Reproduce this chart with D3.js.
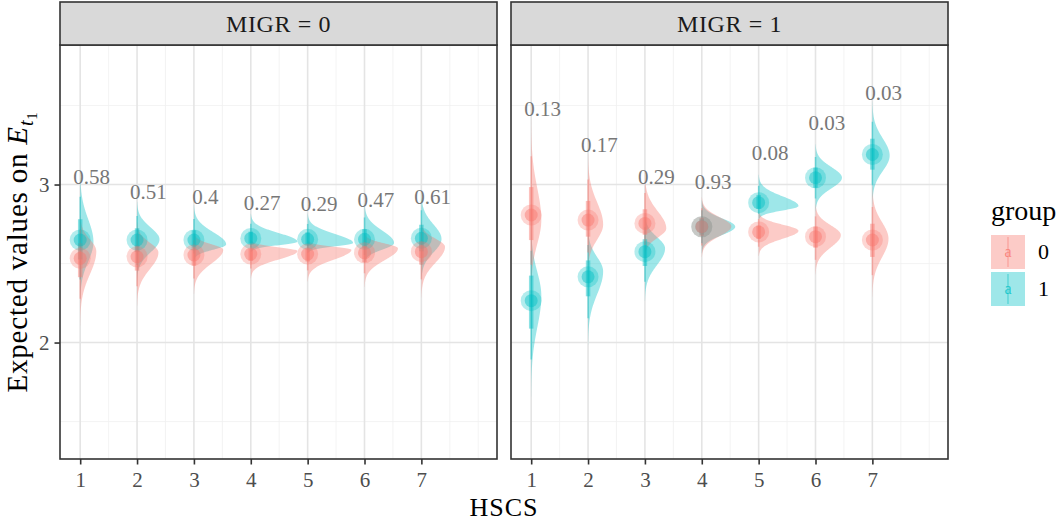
<!DOCTYPE html>
<html>
<head>
<meta charset="utf-8">
<script src="https://cdn.jsdelivr.net/npm/d3@7"></script>
<style>
  body { margin: 0; background: #fff; }
  svg { display: block; }
  text { font-family: "Liberation Serif", "Times New Roman", serif; }
</style>
</head>
<body>
<svg id="chart" width="1062" height="522"></svg>
<script>
// ---- data -------------------------------------------------------------
const hscs = [1, 2, 3, 4, 5, 6, 7];
const panelTitles = ["MIGR = 0", "MIGR = 1"];
const groups = ["0", "1"];
const xTicks = [1, 2, 3, 4, 5, 6, 7];
const yTicks = [2, 3];

// posterior medians of the expected value, by HSCS level
const medianM0G0 = [2.533, 2.543, 2.554, 2.560, 2.560, 2.568, 2.575];
const medianM0G1 = [2.649, 2.649, 2.649, 2.659, 2.653, 2.653, 2.660];
const medianM1G0 = [2.807, 2.775, 2.754, 2.733, 2.700, 2.670, 2.649];
const medianM1G1 = [2.265, 2.416, 2.575, 2.733, 2.885, 3.043, 3.190];

// lower / upper spread of each (skewed) posterior
const sdLoM0G0 = [0.145, 0.104, 0.086, 0.053, 0.061, 0.075, 0.099];
const sdHiM0G0 = [0.075, 0.062, 0.035, 0.023, 0.020, 0.031, 0.051];
const sdLoM0G1 = [0.123, 0.082, 0.033, 0.022, 0.021, 0.042, 0.084];
const sdHiM0G1 = [0.144, 0.076, 0.077, 0.054, 0.057, 0.078, 0.092];
const sdLoM1G0 = [0.150, 0.095, 0.058, 0.061, 0.050, 0.078, 0.116];
const sdHiM1G0 = [0.200, 0.140, 0.108, 0.059, 0.039, 0.062, 0.104];
const sdLoM1G1 = [0.200, 0.145, 0.104, 0.053, 0.028, 0.067, 0.097];
const sdHiM1G1 = [0.150, 0.090, 0.072, 0.053, 0.061, 0.067, 0.108];

// p-values printed above each pair, and their heights
const pLabelsM0 = ["0.58", "0.51", "0.4", "0.27", "0.29", "0.47", "0.61"];
const pLabelYM0 = [3.05, 2.955, 2.92, 2.885, 2.877, 2.90, 2.92];
const pLabelsM1 = ["0.13", "0.17", "0.29", "0.93", "0.08", "0.03", "0.03"];
const pLabelYM1 = [3.48, 3.25, 3.05, 3.018, 3.197, 3.387, 3.577];

// ---- helpers ----------------------------------------------------------
// inverse standard normal CDF (Acklam)
function qnorm(p) {
  const a = [-39.69683028665376, 220.9460984245205, -275.9285104469687, 138.3577518672690, -30.66479806614716, 2.506628277459239];
  const b = [-54.47609879822406, 161.5858368580409, -155.6989798598866, 66.80131188771972, -13.28068155288572];
  const c = [-0.007784894002430293, -0.3223964580411365, -2.400758277161838, -2.549732539343734, 4.374664141464968, 2.938163982698783];
  const d = [0.007784695709041462, 0.3224671290700398, 2.445134137142996, 3.754408661907416];
  const pl = 0.02425;
  let q, r;
  if (p < pl) {
    q = Math.sqrt(-2 * Math.log(p));
    return (((((c[0]*q+c[1])*q+c[2])*q+c[3])*q+c[4])*q+c[5]) / ((((d[0]*q+d[1])*q+d[2])*q+d[3])*q+1);
  } else if (p <= 1 - pl) {
    q = p - 0.5; r = q * q;
    return (((((a[0]*r+a[1])*r+a[2])*r+a[3])*r+a[4])*r+a[5])*q / (((((b[0]*r+b[1])*r+b[2])*r+b[3])*r+b[4])*r+1);
  } else {
    q = Math.sqrt(-2 * Math.log(1 - p));
    return -(((((c[0]*q+c[1])*q+c[2])*q+c[3])*q+c[4])*q+c[5]) / ((((d[0]*q+d[1])*q+d[2])*q+d[3])*q+1);
  }
}

// split-normal distribution built from its median and two spreads
function splitNormal(median, sLo, sHi) {
  const s = sLo + sHi;
  const pLo = sLo / s;
  const qRaw = p => p < pLo ? sLo * qnorm(p * s / (2 * sLo))
                            : sHi * qnorm(1 - (1 - p) * s / (2 * sHi));
  const mode = median - qRaw(0.5);
  const peak = Math.sqrt(2 / Math.PI) / s;
  return {
    median, mode, peak,
    q: p => mode + qRaw(p),
    pdf: v => peak * Math.exp(-((v - mode) ** 2) / (2 * (v < mode ? sLo : sHi) ** 2))
  };
}

const panelData = [
  { title: panelTitles[0], labels: pLabelsM0, labelY: pLabelYM0,
    series: [
      { group: groups[0], median: medianM0G0, lo: sdLoM0G0, hi: sdHiM0G0 },
      { group: groups[1], median: medianM0G1, lo: sdLoM0G1, hi: sdHiM0G1 } ] },
  { title: panelTitles[1], labels: pLabelsM1, labelY: pLabelYM1,
    series: [
      { group: groups[0], median: medianM1G0, lo: sdLoM1G0, hi: sdHiM1G0 },
      { group: groups[1], median: medianM1G1, lo: sdLoM1G1, hi: sdHiM1G1 } ] }
];
panelData.forEach(p => p.series.forEach(s => {
  s.dists = hscs.map((h, i) => splitNormal(s.median[i], s.lo[i], s.hi[i]));
}));
const maxPeak = d3.max(panelData, p => d3.max(p.series, s => d3.max(s.dists, d => d.peak)));

// ---- layout -----------------------------------------------------------
const svg = d3.select("#chart");
const color = d3.scaleOrdinal().domain(groups).range(["#F8766D", "#00BFC4"]);
const slabAlpha = 0.38;
const slabScale = 0.82;           // widest slab, in x units
const panelX = [[60, 497], [511, 948]];
const panelTop = 45, panelBottom = 459, stripTop = 2;

const y = d3.scaleLinear().domain([1.263, 3.883]).range([panelBottom, panelTop]);
const yMinor = [1.5, 2.5, 3.5];
const xMinor = [1.5, 2.5, 3.5, 4.5, 5.5, 6.5, 7.5, 8];

panelData.forEach((pd, pi) => {
  const [x0, x1] = panelX[pi];
  const x = d3.scaleLinear().domain([0.645, 8.33]).range([x0, x1]);
  const g = svg.append("g");
  const clipId = "clip" + pi;
  svg.append("clipPath").attr("id", clipId)
    .append("rect").attr("x", x0).attr("y", panelTop).attr("width", x1 - x0).attr("height", panelBottom - panelTop);

  // grid
  const grid = g.append("g");
  grid.selectAll(".gym").data(yMinor).join("line")
    .attr("x1", x0).attr("x2", x1).attr("y1", d => y(d)).attr("y2", d => y(d))
    .attr("stroke", "#f0f0f0").attr("stroke-width", 0.8);
  grid.selectAll(".gxm").data(xMinor).join("line")
    .attr("y1", panelTop).attr("y2", panelBottom).attr("x1", d => x(d)).attr("x2", d => x(d))
    .attr("stroke", "#f0f0f0").attr("stroke-width", 0.8);
  grid.selectAll(".gy").data(yTicks).join("line")
    .attr("x1", x0).attr("x2", x1).attr("y1", d => y(d)).attr("y2", d => y(d))
    .attr("stroke", "#e4e4e4").attr("stroke-width", 1.6);
  grid.selectAll(".gx").data(xTicks).join("line")
    .attr("y1", panelTop).attr("y2", panelBottom).attr("x1", d => x(d)).attr("x2", d => x(d))
    .attr("stroke", "#e4e4e4").attr("stroke-width", 1.6);

  const marks = g.append("g").attr("clip-path", `url(#${clipId})`);

  // density slabs: group 1 underneath, group 0 on top
  const area = d3.area().curve(d3.curveLinear);
  [1, 0].forEach(si => {
    const s = pd.series[si];
    s.dists.forEach((dist, i) => {
      const lo = dist.q(0.0008), hi = dist.q(0.9992);
      const vals = d3.range(0, 161).map(k => lo + (hi - lo) * k / 160);
      area.x0(() => x(hscs[i]))
          .x1(v => x(hscs[i] + slabScale * dist.pdf(v) / maxPeak))
          .y(v => y(v));
      marks.append("path").attr("d", area(vals))
        .attr("fill", color(s.group)).attr("fill-opacity", slabAlpha);
    });
  });

  // intervals (66% thick, 95% thin) and medians
  [1, 0].forEach(si => {
    const s = pd.series[si];
    s.dists.forEach((dist, i) => {
      const cx = x(hscs[i]);
      marks.append("line").attr("x1", cx).attr("x2", cx)
        .attr("y1", y(dist.q(0.025))).attr("y2", y(dist.q(0.975)))
        .attr("stroke", color(s.group)).attr("stroke-opacity", 0.45).attr("stroke-width", 1.5);
      marks.append("line").attr("x1", cx).attr("x2", cx)
        .attr("y1", y(dist.q(0.17))).attr("y2", y(dist.q(0.83)))
        .attr("stroke", color(s.group)).attr("stroke-opacity", 0.45).attr("stroke-width", 4.5);
    });
  });
  [1, 0].forEach(si => {
    const s = pd.series[si];
    s.dists.forEach((dist, i) => {
      const cx = x(hscs[i]), cy = y(dist.median);
      marks.append("circle").attr("cx", cx).attr("cy", cy).attr("r", 10.5)
        .attr("fill", color(s.group)).attr("fill-opacity", 0.3);
      marks.append("circle").attr("cx", cx).attr("cy", cy).attr("r", 6.5)
        .attr("fill", color(s.group)).attr("fill-opacity", 0.45);
    });
  });

  // p-value labels
  marks.selectAll(".plab").data(pd.labels).join("text")
    .attr("x", (d, i) => x(hscs[i] + 0.2))
    .attr("y", (d, i) => y(pd.labelY[i]) + 7)
    .attr("text-anchor", "middle")
    .attr("font-size", 21).attr("fill", "#777")
    .text(d => d);

  // panel border
  g.append("rect").attr("x", x0).attr("y", panelTop).attr("width", x1 - x0).attr("height", panelBottom - panelTop)
    .attr("fill", "none").attr("stroke", "#333").attr("stroke-width", 1.6);

  // strip
  g.append("rect").attr("x", x0).attr("y", stripTop).attr("width", x1 - x0).attr("height", panelTop - stripTop)
    .attr("fill", "#d9d9d9").attr("stroke", "#333").attr("stroke-width", 1.6);
  g.append("text").attr("x", (x0 + x1) / 2).attr("y", 32).attr("text-anchor", "middle")
    .attr("font-size", 24).attr("letter-spacing", 0.6).attr("fill", "#1a1a1a").text(pd.title);

  // x axis
  const xAxis = d3.axisBottom(x).tickValues(xTicks).tickSize(5.5).tickPadding(4).tickFormat(d3.format("d"));
  const xa = svg.append("g").attr("transform", `translate(0,${panelBottom})`).call(xAxis);
  xa.select(".domain").remove();
  xa.selectAll(".tick line").attr("stroke", "#333").attr("stroke-width", 1.6);
  xa.selectAll(".tick text").attr("font-size", 21).attr("fill", "#4d4d4d")
    .attr("font-family", "Liberation Serif, serif").attr("dy", null).attr("y", 28);

  // y axis (first panel only)
  if (pi === 0) {
    const yAxis = d3.axisLeft(y).tickValues(yTicks).tickSize(5.5).tickPadding(5).tickFormat(d3.format("d"));
    const ya = svg.append("g").attr("transform", `translate(${x0},0)`).call(yAxis);
    ya.select(".domain").remove();
    ya.selectAll(".tick line").attr("stroke", "#333").attr("stroke-width", 1.6);
    ya.selectAll(".tick text").attr("font-size", 21).attr("fill", "#4d4d4d")
      .attr("font-family", "Liberation Serif, serif").attr("dy", "0.34em");
  }
});

// axis titles
svg.append("text").attr("x", (panelX[0][0] + panelX[1][1]) / 2).attr("y", 516)
  .attr("text-anchor", "middle").attr("font-size", 26).attr("letter-spacing", 1).attr("fill", "#000").text("HSCS");

const yTitle = svg.append("text")
  .attr("transform", `translate(27,${(panelTop + panelBottom) / 2}) rotate(-90)`)
  .attr("text-anchor", "middle").attr("font-size", 29).attr("fill", "#000")
  .attr("letter-spacing", 0.8);
yTitle.append("tspan").text("Expected values on ");
yTitle.append("tspan").attr("font-style", "italic").text("E");
yTitle.append("tspan").attr("font-style", "italic").attr("font-size", 20).attr("dy", 6).text("t");
yTitle.append("tspan").attr("font-size", 15).attr("dy", 4).text("1");

// legend
const legend = svg.append("g");
legend.append("text").attr("x", 991).attr("y", 220).attr("font-size", 28).attr("fill", "#000").text("group");
groups.forEach((gname, i) => {
  const top = 235 + i * 37, kx = 991, kw = 34, kh = 34;
  legend.append("rect").attr("x", kx).attr("y", top).attr("width", kw).attr("height", kh)
    .attr("fill", color(gname)).attr("fill-opacity", slabAlpha);
  legend.append("line").attr("x1", kx + kw / 2).attr("x2", kx + kw / 2).attr("y1", top + 2).attr("y2", top + kh - 2)
    .attr("stroke", color(gname)).attr("stroke-opacity", 0.5).attr("stroke-width", 1.2);
  legend.append("text").attr("x", kx + kw / 2).attr("y", top + kh / 2 + 5).attr("text-anchor", "middle")
    .attr("font-size", 16).attr("fill", color(gname)).attr("fill-opacity", 0.8).text("a");
  legend.append("text").attr("x", 1038).attr("y", top + kh / 2 + 7).attr("font-size", 22).attr("fill", "#000").text(gname);
});
</script>
</body>
</html>
